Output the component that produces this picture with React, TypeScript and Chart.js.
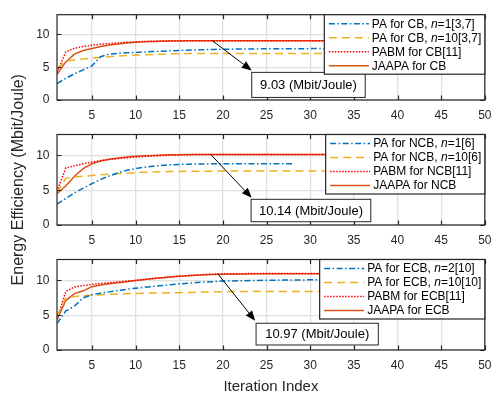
import React, { useEffect, useRef } from "react";
import { Chart, registerables } from "chart.js";

Chart.register(...registerables);

// ---------- data ----------
const ITER = [1, 2, 3, 4, 5, 6, 7, 8, 9, 10, 11, 12, 13, 14, 15, 16, 17, 18, 19, 20, 25, 30, 35, 40, 45, 50];
const ITER_NCB_N1 = [1, 2, 3, 4, 5, 6, 7, 8, 9, 10, 11, 12, 13, 14, 15, 16, 17, 18, 19, 20, 24, 28];

// CB
const CB_PA_N1 = [2.5, 3.3, 4.0, 4.6, 5.2, 6.6, 7.0, 7.1, 7.2, 7.25, 7.32, 7.38, 7.44, 7.5, 7.55, 7.6, 7.64, 7.68, 7.71, 7.74, 7.8, 7.83, 7.85, 7.85, 7.85, 7.85];
const CB_PA_N10 = [4.8, 5.9, 6.1, 6.25, 6.4, 6.5, 6.6, 6.7, 6.78, 6.85, 6.9, 6.95, 6.99, 7.02, 7.05, 7.07, 7.08, 7.09, 7.1, 7.1, 7.1, 7.1, 7.1, 7.1, 7.1, 7.1];
const CB_PABM = [4.2, 7.3, 7.9, 8.15, 8.35, 8.5, 8.6, 8.7, 8.8, 8.87, 8.92, 8.96, 8.99, 9.01, 9.02, 9.03, 9.03, 9.03, 9.03, 9.03, 9.03, 9.03, 9.03, 9.03, 9.03, 9.03];
const CB_JAAPA = [3.9, 5.8, 7.0, 7.55, 7.85, 8.15, 8.38, 8.55, 8.7, 8.8, 8.87, 8.92, 8.96, 8.99, 9.0, 9.02, 9.03, 9.03, 9.03, 9.03, 9.03, 9.03, 9.03, 9.03, 9.03, 9.03];

// NCB
const NCB_PA_N1 = [3.0, 3.8, 4.6, 5.3, 5.95, 6.55, 7.05, 7.5, 7.85, 8.1, 8.3, 8.45, 8.56, 8.64, 8.7, 8.74, 8.77, 8.78, 8.79, 8.8, 8.8, 8.8];
const NCB_PA_N10 = [4.6, 6.7, 6.9, 7.0, 7.1, 7.2, 7.3, 7.38, 7.45, 7.52, 7.57, 7.61, 7.64, 7.67, 7.69, 7.71, 7.72, 7.73, 7.74, 7.75, 7.76, 7.76, 7.76, 7.76, 7.76, 7.76];
const NCB_PABM = [4.8, 8.2, 8.5, 8.8, 9.05, 9.25, 9.42, 9.55, 9.66, 9.76, 9.85, 9.92, 9.98, 10.03, 10.07, 10.1, 10.12, 10.13, 10.14, 10.14, 10.14, 10.14, 10.14, 10.14, 10.14, 10.14];
const NCB_JAAPA = [4.5, 5.6, 7.0, 8.1, 8.8, 9.2, 9.45, 9.62, 9.76, 9.86, 9.94, 10.0, 10.05, 10.08, 10.1, 10.12, 10.13, 10.14, 10.14, 10.14, 10.14, 10.14, 10.14, 10.14, 10.14, 10.14];

// ECB
const ECB_PA_N2 = [3.8, 5.6, 6.3, 7.5, 7.95, 8.15, 8.35, 8.55, 8.72, 8.88, 9.0, 9.12, 9.25, 9.38, 9.5, 9.6, 9.68, 9.76, 9.83, 9.9, 10.02, 10.08, 10.1, 10.1, 10.1, 10.1];
const ECB_PA_N10 = [4.8, 7.5, 7.7, 7.8, 7.88, 7.94, 7.99, 8.04, 8.09, 8.13, 8.16, 8.18, 8.2, 8.22, 8.24, 8.27, 8.3, 8.33, 8.36, 8.38, 8.4, 8.41, 8.42, 8.42, 8.42, 8.42];
const ECB_PABM = [4.4, 8.4, 9.05, 9.25, 9.43, 9.55, 9.66, 9.78, 9.9, 10.0, 10.12, 10.25, 10.38, 10.5, 10.6, 10.7, 10.78, 10.85, 10.9, 10.95, 10.99, 11.0, 11.0, 11.0, 11.0, 11.0];
const ECB_JAAPA = [4.4, 7.1, 8.1, 8.5, 9.1, 9.35, 9.5, 9.65, 9.82, 10.0, 10.13, 10.26, 10.38, 10.5, 10.6, 10.68, 10.75, 10.8, 10.84, 10.87, 10.95, 10.97, 10.97, 10.97, 10.97, 10.97];

const CB_LABELS = ["PA for CB, *n*=1[3,7]", "PA for CB, *n*=10[3,7]", "PABM for CB[11]", "JAAPA for CB"];
const NCB_LABELS = ["PA for NCB, *n*=1[6]", "PA for NCB, *n*=10[6]", "PABM for NCB[11]", "JAAPA for NCB"];
const ECB_LABELS = ["PA for ECB, *n*=2[10]", "PA for ECB, *n*=10[10]", "PABM for ECB[11]", "JAAPA for ECB"];

const X_TICKS = [5, 10, 15, 20, 25, 30, 35, 40, 45, 50];
const Y_TICKS = [0, 5, 10];
const X_MIN = 1;
const X_MAX = 50;
const Y_MIN = 0;
const Y_MAX = 13;

const Y_TITLE = "Energy Efficiency (Mbit/Joule)";
const X_TITLE = "Iteration Index";

// ---------- styles ----------
const FONT = '"Liberation Sans", Arial, Helvetica, sans-serif';
const AXIS_COLOR = "#262626";
const GRID_COLOR = "#e0e0e0";
const W = 500;
const H = 394;

const STYLES = [
  { color: "#0072BD", dash: [6, 2.5, 1.5, 2.5] },
  { color: "#EDB120", dash: [8, 5] },
  { color: "#FF0000", dash: [1.5, 1.5] },
  { color: "#D95319", dash: [] as number[] },
];

type Annot = { text: string; from: [number, number]; to: [number, number]; box: [number, number, number, number] };

const PANELS = [
  {
    top: 9.5, bottom: 100,
    series: [[ITER, CB_PA_N1], [ITER, CB_PA_N10], [ITER, CB_PABM], [ITER, CB_JAAPA]],
    labels: CB_LABELS,
    annot: { text: "9.03 (Mbit/Joule)", from: [18.8, 9.03], to: [23.3, 4.5], box: [23.3, 36.3, 4.21, 0.39] } as Annot,
    yTitle: false, xTitle: false,
  },
  {
    top: 134.5, bottom: 225,
    series: [[ITER_NCB_N1, NCB_PA_N1], [ITER, NCB_PA_N10], [ITER, NCB_PABM], [ITER, NCB_JAAPA]],
    labels: NCB_LABELS,
    annot: { text: "10.14 (Mbit/Joule)", from: [18.6, 10.14], to: [23.3, 3.9], box: [23.23, 36.94, 3.69, 0.47] } as Annot,
    yTitle: true, xTitle: false,
  },
  {
    top: 259.5, bottom: 350,
    series: [[ITER, ECB_PA_N2], [ITER, ECB_PA_N10], [ITER, ECB_PABM], [ITER, ECB_JAAPA]],
    labels: ECB_LABELS,
    annot: { text: "10.97 (Mbit/Joule)", from: [19.4, 10.97], to: [23.7, 4.2], box: [23.8, 37.8, 3.84, 0.72] } as Annot,
    yTitle: false, xTitle: true,
  },
];

function decorPlugin(idx: number) {
  const panel = PANELS[idx];
  return {
    id: "decor" + idx,
    afterDraw(chart: any) {
      const { ctx, chartArea: a, scales } = chart;
      const xs = scales.x;
      const ys = scales.y;
      ctx.save();
      // axes box
      ctx.strokeStyle = AXIS_COLOR;
      ctx.lineWidth = 1.2;
      ctx.strokeRect(a.left, a.top, a.right - a.left, a.bottom - a.top);
      // inward ticks
      const TL = 4.5;
      ctx.lineWidth = 1.2;
      ctx.beginPath();
      for (const t of X_TICKS) {
        const px = Math.round(xs.getPixelForValue(t)) + 0.5;
        ctx.moveTo(px, a.bottom);
        ctx.lineTo(px, a.bottom - TL);
        ctx.moveTo(px, a.top);
        ctx.lineTo(px, a.top + TL);
      }
      for (const t of Y_TICKS) {
        const py = Math.round(ys.getPixelForValue(t)) + 0.5;
        ctx.moveTo(a.left, py);
        ctx.lineTo(a.left + TL, py);
        ctx.moveTo(a.right, py);
        ctx.lineTo(a.right - TL, py);
      }
      ctx.stroke();

      // annotation arrow
      const an = panel.annot;
      const x0 = xs.getPixelForValue(an.from[0]);
      const y0 = ys.getPixelForValue(an.from[1]);
      const x1 = xs.getPixelForValue(an.to[0]);
      const y1 = ys.getPixelForValue(an.to[1]);
      const ang = Math.atan2(y1 - y0, x1 - x0);
      const HL = 10;
      const HW = 4;
      ctx.strokeStyle = "#000";
      ctx.fillStyle = "#000";
      ctx.lineWidth = 1;
      ctx.beginPath();
      ctx.moveTo(x0, y0);
      ctx.lineTo(x1 - HL * Math.cos(ang), y1 - HL * Math.sin(ang));
      ctx.stroke();
      ctx.beginPath();
      ctx.moveTo(x1, y1);
      ctx.lineTo(x1 - HL * Math.cos(ang) + HW * Math.sin(ang), y1 - HL * Math.sin(ang) - HW * Math.cos(ang));
      ctx.lineTo(x1 - HL * Math.cos(ang) - HW * Math.sin(ang), y1 - HL * Math.sin(ang) + HW * Math.cos(ang));
      ctx.closePath();
      ctx.fill();

      // annotation box
      const bx0 = xs.getPixelForValue(an.box[0]);
      const bx1 = xs.getPixelForValue(an.box[1]);
      const by0 = ys.getPixelForValue(an.box[2]);
      const by1 = ys.getPixelForValue(an.box[3]);
      ctx.fillStyle = "#fff";
      ctx.fillRect(bx0, by0, bx1 - bx0, by1 - by0);
      ctx.strokeStyle = AXIS_COLOR;
      ctx.lineWidth = 1;
      ctx.strokeRect(bx0, by0, bx1 - bx0, by1 - by0);
      ctx.fillStyle = "#000";
      ctx.font = `13px ${FONT}`;
      ctx.textAlign = "center";
      ctx.textBaseline = "middle";
      ctx.fillText(an.text, (bx0 + bx1) / 2, (by0 + by1) / 2 + 0.5);

      // legend
      const fontN = `12px ${FONT}`;
      const fontI = `italic 12px ${FONT}`;
      const parsed = panel.labels.map((l) => l.split("*").map((s, i) => ({ s, it: i % 2 === 1 })));
      let maxW = 0;
      for (const parts of parsed) {
        let w = 0;
        for (const p of parts) {
          ctx.font = p.it ? fontI : fontN;
          w += ctx.measureText(p.s).width;
        }
        maxW = Math.max(maxW, w);
      }
      const padL = 4.5, lineLen = 40, gap = 3, padR = 3.5, rowH = 14, firstRow = 9, lastPad = 8.5;
      const boxW = padL + lineLen + gap + maxW + padR;
      const boxH = firstRow + rowH * (parsed.length - 1) + lastPad;
      const lx = a.right - boxW;
      const ly = a.top;
      ctx.fillStyle = "#fff";
      ctx.fillRect(lx, ly, boxW, boxH);
      ctx.strokeStyle = AXIS_COLOR;
      ctx.lineWidth = 1.2;
      ctx.strokeRect(lx, ly, boxW, boxH);
      ctx.textAlign = "left";
      ctx.textBaseline = "middle";
      parsed.forEach((parts, i) => {
        const ry = ly + firstRow + rowH * i;
        const st = STYLES[i];
        ctx.strokeStyle = st.color;
        ctx.lineWidth = 1.5;
        ctx.setLineDash(st.dash);
        ctx.beginPath();
        ctx.moveTo(lx + padL, ry);
        ctx.lineTo(lx + padL + lineLen, ry);
        ctx.stroke();
        ctx.setLineDash([]);
        let tx = lx + padL + lineLen + gap;
        ctx.fillStyle = "#000";
        for (const p of parts) {
          ctx.font = p.it ? fontI : fontN;
          ctx.fillText(p.s, tx, ry + 0.5);
          tx += ctx.measureText(p.s).width;
        }
      });
      ctx.restore();
    },
  };
}

function buildConfig(idx: number): any {
  const panel = PANELS[idx];
  const datasets = panel.series.map(([xsArr, ysArr], i) => ({
    label: panel.labels[i].replace(/\*/g, ""),
    data: xsArr.map((x, k) => ({ x, y: ysArr[k] })),
    borderColor: STYLES[i].color,
    borderDash: STYLES[i].dash,
    borderWidth: 1.5,
    pointRadius: 0,
    tension: 0,
    fill: false,
  }));
  const axisHeight = H - panel.bottom;
  return {
    type: "line",
    data: { datasets },
    options: {
      animation: false,
      responsive: false,
      maintainAspectRatio: false,
      events: [],
      layout: { padding: { top: panel.top, right: 12, left: 0, bottom: 0 } },
      plugins: { legend: { display: false }, tooltip: { enabled: false } },
      scales: {
        x: {
          type: "linear",
          min: X_MIN,
          max: X_MAX,
          afterBuildTicks: (s: any) => { s.ticks = X_TICKS.map((v) => ({ value: v })); },
          afterFit: (s: any) => { s.height = axisHeight; },
          ticks: { color: AXIS_COLOR, font: { family: FONT, size: 12 }, padding: 8.5, maxRotation: 0, autoSkip: false },
          grid: { color: GRID_COLOR, lineWidth: 1.3, drawTicks: false },
          border: { display: false },
          title: {
            display: panel.xTitle,
            text: X_TITLE,
            color: AXIS_COLOR,
            font: { family: FONT, size: 15, lineHeight: 1 },
            padding: { top: 0, bottom: 0 },
          },
        },
        y: {
          type: "linear",
          min: Y_MIN,
          max: Y_MAX,
          afterBuildTicks: (s: any) => { s.ticks = Y_TICKS.map((v) => ({ value: v })); },
          afterFit: (s: any) => { s.width = 57; },
          ticks: { color: AXIS_COLOR, font: { family: FONT, size: 12 }, padding: 7.5 },
          grid: { color: GRID_COLOR, lineWidth: 1.3, drawTicks: false },
          border: { display: false },
          title: {
            display: panel.yTitle,
            text: Y_TITLE,
            color: AXIS_COLOR,
            font: { family: FONT, size: 16, lineHeight: 1 },
            padding: { top: 11, bottom: 0 },
          },
        },
      },
    },
    plugins: [decorPlugin(idx)],
  };
}

function Panel({ idx }: { idx: number }) {
  const ref = useRef<HTMLCanvasElement | null>(null);
  useEffect(() => {
    if (!ref.current) return;
    const chart = new Chart(ref.current, buildConfig(idx));
    return () => chart.destroy();
  }, [idx]);
  return (
    <canvas
      ref={ref}
      width={W}
      height={H}
      style={{ position: "absolute", left: 0, top: 0, width: W, height: H }}
    />
  );
}

export default function App() {
  return (
    <div style={{ position: "fixed", left: 0, top: 0, width: W, height: H, background: "#fff" }}>
      <Panel idx={0} />
      <Panel idx={1} />
      <Panel idx={2} />
    </div>
  );
}
